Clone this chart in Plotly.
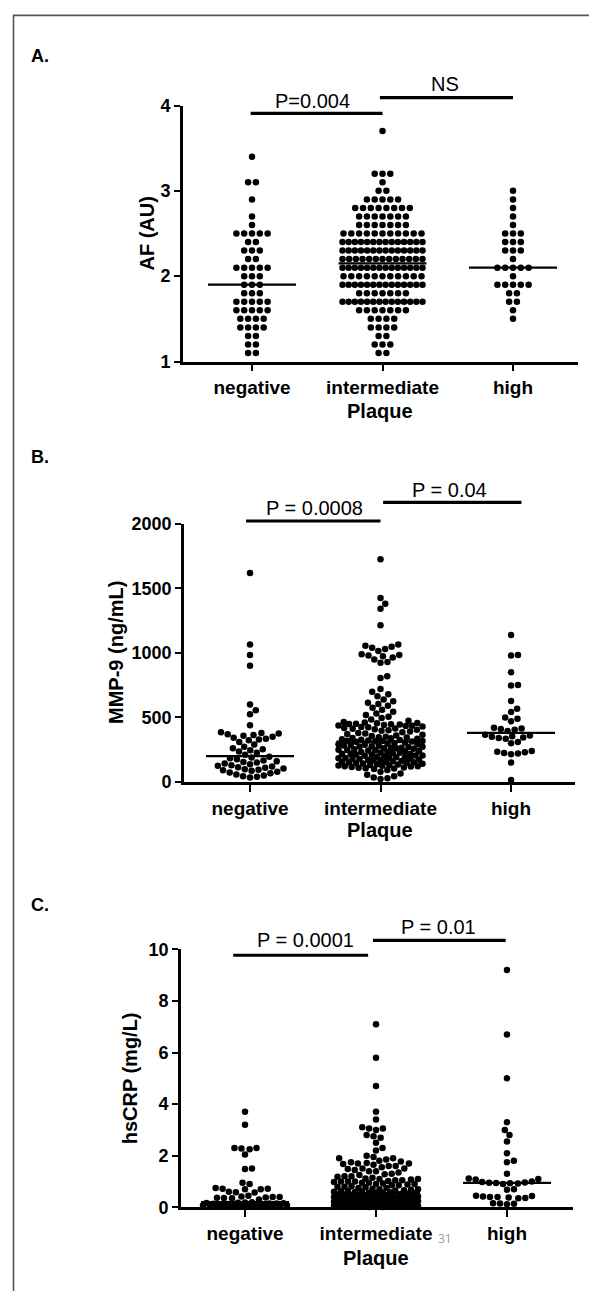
import math
import plotly.graph_objects as go

W, H = 589, 1301

categories = ["negative", "intermediate", "high"]

# ---------------- Panel A: AF (AU) — discrete levels and counts per level
af_neg_levels = [3.4, 3.1, 2.9, 2.7, 2.6, 2.5, 2.4, 2.3, 2.2, 2.1, 2.0, 1.9, 1.8, 1.7, 1.6, 1.5, 1.4, 1.3, 1.2, 1.1]
af_neg_counts = [1, 2, 1, 1, 1, 5, 2, 3, 2, 5, 3, 3, 3, 5, 5, 4, 4, 2, 2, 2]
af_int_levels = [3.7, 3.2, 3.1, 3.0, 2.9, 2.8, 2.7, 2.6, 2.5, 2.4, 2.3, 2.2, 2.1, 2.0, 1.9, 1.8, 1.7, 1.6, 1.5, 1.4, 1.3, 1.2, 1.1]
af_int_counts = [1, 3, 1, 2, 5, 8, 7, 7, 11, 14, 14, 13, 14, 11, 14, 7, 14, 7, 4, 4, 2, 3, 2]
af_high_levels = [3.0, 2.9, 2.8, 2.7, 2.6, 2.5, 2.4, 2.3, 2.2, 2.1, 2.0, 1.9, 1.8, 1.7, 1.6, 1.5]
af_high_counts = [1, 1, 1, 1, 1, 3, 3, 3, 1, 5, 1, 5, 2, 2, 1, 1]
af_medians = [1.9, 2.15, 2.1]
af_ticks = [1, 2, 3, 4]

# ---------------- Panel B: MMP-9 (ng/mL)
mmp_neg = [1620, 1066, 985, 900, 600, 555, 525, 440,
           385, 380, 376, 370, 364, 358, 350, 342, 335, 330, 324, 310, 290, 272, 262, 254, 246, 236, 226, 210,
           196, 190, 184, 176, 166, 160, 155, 150, 144, 138, 130, 126, 120, 114, 110, 104, 98, 94, 90, 86,
           80, 74, 68, 58, 50, 44, 40, 34]
mmp_int = [1727, 1427, 1381, 1342, 1214, 1065, 1055, 1048, 1040, 1030, 1015, 990, 985, 980, 975, 965, 950, 930,
           925, 820, 805, 720, 700, 680, 665, 640, 625, 615, 605, 590, 575, 560, 545, 530, 520, 505, 495, 485,
           475, 465,
           460, 458, 455, 452, 450, 447, 445, 441, 438, 436, 433, 430, 426, 424, 419, 415, 412, 409, 404, 400,
           396, 391, 386, 380, 376, 371, 366, 360, 356, 351, 347, 344, 340, 338, 335, 331, 328, 325, 322, 320,
           318, 317, 315, 314,
           311, 306, 301, 298, 293, 291, 286, 283, 281, 276, 273, 271, 266, 263, 261, 257, 253, 250, 248, 243,
           240, 238, 233, 229, 226, 223, 219, 216, 213, 211, 206, 203, 201, 196, 193, 191, 186, 183, 180, 178,
           173, 170, 168, 163, 160, 157, 154, 150, 148, 145, 141, 138, 135, 131, 128, 126, 122, 119, 116, 113,
           110, 107, 104, 101, 122, 131, 144, 152, 166, 177, 188, 205, 218, 232, 245, 262, 275, 288,
           92, 80, 66, 55, 44, 35, 28, 22]
mmp_high = [1140, 985, 980, 850, 752, 748, 628, 568, 542, 500, 490, 470, 420, 415, 410, 405, 395,
            365, 360, 355, 350, 345, 340, 335, 310, 300, 240, 235, 230, 225, 220, 215, 150, 15]
mmp_medians = [200, 313, 380]
mmp_ticks = [0, 500, 1000, 1500, 2000]

# ---------------- Panel C: hsCRP (mg/L)
crp_neg = [3.7, 3.2, 2.3, 2.28, 2.25, 2.3, 2.05, 1.5, 1.48, 0.95, 0.9, 0.75, 0.72, 0.7, 0.7, 0.72,
           0.58, 0.6, 0.57, 0.45, 0.42, 0.4, 0.38, 0.37, 0.36, 0.35, 0.4, 0.3,
           0.2, 0.19, 0.18, 0.17, 0.16, 0.15, 0.15, 0.14, 0.13, 0.12, 0.12, 0.11, 0.1, 0.1,
           0.09, 0.08, 0.08, 0.07, 0.06, 0.06, 0.05, 0.05, 0.04, 0.03, 0.03, 0.02, 0.02, 0.01]
crp_int = [7.1, 5.8, 4.7, 3.7, 3.4, 3.1, 3.05, 3.0, 3.05, 2.8, 2.75, 2.7, 2.5, 2.3, 2.2, 2.0, 1.95, 1.9, 1.9, 1.85,
           1.8, 1.78, 1.75, 1.72, 1.7, 1.7, 1.68, 1.65, 1.6, 1.6, 1.55, 1.5, 1.5, 1.48, 1.45, 1.4, 1.4, 1.35,
           1.3, 1.28, 1.25, 1.2, 1.2, 1.18, 1.15, 1.12, 1.1, 1.1, 1.08, 1.05, 1.05, 1.02, 1.0, 1.0, 1.0,
           0.98, 0.95, 0.95, 0.92, 0.9, 0.9, 0.88, 0.85, 0.85, 0.82, 0.8, 0.8, 0.78, 0.75, 0.75, 0.72, 0.7,
           0.7, 0.68, 0.66, 0.65, 0.63, 0.62, 0.6, 0.6, 0.59, 0.58, 0.57, 0.56,
           0.55, 0.54, 0.53, 0.52, 0.5, 0.5, 0.49, 0.48, 0.47, 0.46, 0.45, 0.45, 0.44, 0.43, 0.42, 0.41,
           0.4, 0.4, 0.39, 0.38, 0.37, 0.36, 0.35, 0.35, 0.34, 0.33, 0.32, 0.31, 0.3, 0.3, 0.29, 0.28,
           0.27, 0.26, 0.25, 0.25, 0.24, 0.23, 0.22, 0.21, 0.2, 0.2, 0.19, 0.18, 0.17, 0.16, 0.15, 0.15,
           0.14, 0.13, 0.12, 0.11, 0.1, 0.1, 0.09, 0.08, 0.08, 0.07, 0.06, 0.06, 0.05, 0.05, 0.04, 0.04,
           0.03, 0.03, 0.02, 0.02, 0.02, 0.01, 0.01, 0.01, 0.33, 0.27, 0.21, 0.14]
crp_high = [9.2, 6.7, 5.0, 3.3, 3.0, 2.8, 2.55, 2.1, 1.8, 1.75, 1.3, 1.12, 1.1, 1.08, 1.0, 0.98, 0.96,
            0.95, 0.94, 0.93, 0.92, 0.9, 0.7, 0.68, 0.45, 0.42, 0.4, 0.38, 0.36, 0.35, 0.4, 0.44,
            0.15, 0.14, 0.16, 0.12]
crp_medians = [0.2, 0.55, 0.95]
crp_ticks = [0, 2, 4, 6, 8, 10]


# ---------------- layout geometry (pixels in the 589x1301 page)
def pxx(px):
    return px / W


def pyy(px):
    return 1 - px / H


panels = [
    dict(xl=183, xr=578, cats=[252, 382, 513], yt=97, yb=357, yr=[1, 4], ticks=af_ticks),
    dict(xl=184, xr=575, cats=[250, 380, 511], yt=522, yb=784, yr=[0, 2000], ticks=mmp_ticks),
    dict(xl=181, xr=573, cats=[245, 376, 507], yt=954, yb=1216, yr=[0, 10], ticks=crp_ticks),
]
for p in panels:
    p["sp"] = (p["cats"][2] - p["cats"][0]) / 2.0
    p["xrange"] = [-(p["cats"][0] - p["xl"]) / p["sp"], (p["xr"] - p["cats"][0]) / p["sp"]]
    p["ppu"] = (p["yb"] - p["yt"]) / (p["yr"][1] - p["yr"][0])

DOT = 7.0     # min centre distance, px
MAXHALF = 42  # max half width of a column, px


def rows_layout(levels, counts, ppu):
    xs, ys = [], []
    for v, n in zip(levels, counts):
        s = 7.8 if n < 2 else min(7.8, 2 * 40.0 / (n - 1))
        for k in range(n):
            xs.append((k - (n - 1) / 2.0) * s)
            ys.append(v)
    return xs, ys


def swarm(values, ppu):
    order = sorted(range(len(values)), key=lambda i: values[i])
    placed = []
    xs = [0.0] * len(values)
    for i in order:
        y = values[i] * ppu
        near = [(xj, yj) for (xj, yj) in placed if abs(yj - y) < DOT]
        cands = [0.0]
        for xj, yj in near:
            dx = math.sqrt(max(DOT * DOT - (y - yj) ** 2, 0.0))
            cands += [xj + dx, xj - dx]
        cands.sort(key=abs)
        chosen = None
        for c in cands:
            if abs(c) > MAXHALF:
                continue
            if all((c - xj) ** 2 + (y - yj) ** 2 >= DOT * DOT - 1e-6 for xj, yj in near):
                chosen = c
                break
        if chosen is None:
            best, bestd = 0.0, -1
            for k in range(-24, 25):
                c = MAXHALF * k / 24.0
                d = min(((c - xj) ** 2 + (y - yj) ** 2) for xj, yj in near) if near else 1e9
                if d > bestd:
                    best, bestd = c, d
            chosen = best
        placed.append((chosen, y))
        xs[i] = chosen
    return xs


fig = go.Figure()

groups = [
    [("rows", af_neg_levels, af_neg_counts), ("rows", af_int_levels, af_int_counts),
     ("rows", af_high_levels, af_high_counts)],
    [("swarm", mmp_neg), ("swarm", mmp_int), ("swarm", mmp_high)],
    [("swarm", crp_neg), ("swarm", crp_int), ("swarm", crp_high)],
]
medians = [af_medians, mmp_medians, crp_medians]

for pi, (p, grp) in enumerate(zip(panels, groups)):
    xa = "x" if pi == 0 else "x%d" % (pi + 1)
    ya = "y" if pi == 0 else "y%d" % (pi + 1)
    for ci, g in enumerate(grp):
        if g[0] == "rows":
            offs, vals = rows_layout(g[1], g[2], p["ppu"])
        else:
            vals = g[1]
            offs = swarm(vals, p["ppu"])
        fig.add_trace(go.Scatter(
            x=[ci + o / p["sp"] for o in offs], y=vals, mode="markers",
            marker=dict(symbol="circle", size=6.5, color="black", line=dict(width=0)),
            xaxis=xa, yaxis=ya, cliponaxis=False, showlegend=False, hoverinfo="y"))
    for ci, m in enumerate(medians[pi]):
        half = 44.0 / p["sp"]
        fig.add_trace(go.Scatter(
            x=[ci - half, ci + half], y=[m, m], mode="lines",
            line=dict(color="black", width=2.2), xaxis=xa, yaxis=ya,
            cliponaxis=False, showlegend=False, hoverinfo="skip"))

tickfont = dict(family="Liberation Sans", size=19, color="black", weight="bold")
ytickfont = dict(family="Liberation Sans", size=18, color="black", weight="bold")
layout = dict(width=W, height=H, margin=dict(l=0, r=0, t=0, b=0),
              paper_bgcolor="white", plot_bgcolor="white", showlegend=False)
for pi, p in enumerate(panels):
    sx = "" if pi == 0 else str(pi + 1)
    layout["xaxis" + sx] = dict(
        domain=[pxx(p["xl"]), pxx(p["xr"])], range=p["xrange"], anchor="y" + sx,
        tickmode="array", tickvals=[0, 1, 2], ticktext=categories,
        showline=True, linecolor="black", linewidth=2.6, ticks="outside", ticklen=7,
        tickwidth=2.2, tickcolor="black", showgrid=False, zeroline=False, tickfont=tickfont)
    layout["yaxis" + sx] = dict(
        domain=[pyy(p["yb"]), pyy(p["yt"])], range=p["yr"], anchor="x" + sx,
        tickmode="array", tickvals=p["ticks"],
        showline=True, linecolor="black", linewidth=2.6, ticks="outside", ticklen=6,
        tickwidth=2.2, tickcolor="black", showgrid=False, zeroline=False, tickfont=ytickfont)
fig.update_layout(**layout)

ann = []
shapes = []
for txt, y in [("A.", 47), ("B.", 454), ("C.", 909)]:
    ann.append(dict(text=txt, x=pxx(29), y=pyy(y), xref="paper", yref="paper", xanchor="left",
                    yanchor="middle", showarrow=False,
                    font=dict(family="Liberation Sans", size=18, color="black", weight="bold")))
titles = [("AF (AU)", 147, 227), ("MMP-9 (ng/mL)", 116, 653), ("hsCRP (mg/L)", 130, 1085)]
for txt, x, y in titles:
    ann.append(dict(text=txt, x=pxx(x), y=pyy(y), xref="paper", yref="paper", textangle=-90,
                    xanchor="center", yanchor="middle", showarrow=False,
                    font=dict(family="Liberation Sans", size=20, color="black", weight="bold")))
for x, y in [(380, 407), (380, 833), (376, 1267)]:
    ann.append(dict(text="Plaque", x=pxx(x), y=pyy(y), xref="paper", yref="paper",
                    xanchor="center", yanchor="middle", showarrow=False,
                    font=dict(family="Liberation Sans", size=20, color="black", weight="bold")))

sig = [
    (0, "P=0.004", -0.01, 1.0, 105, 312, 92),
    (0, "NS", 0.98, 2.0, 89, 445, 75),
    (1, "P = 0.0008", -0.03, 1.0, 519, 314, 506),
    (1, "P = 0.04", 1.02, 2.08, 500, 449, 487),
    (2, "P = 0.0001", -0.09, 0.94, 960, 305, 945),
    (2, "P = 0.01", 0.977, 1.99, 945, 438, 931),
]
for pi, txt, x0, x1, by, tx, ty in sig:
    xa = "x" if pi == 0 else "x%d" % (pi + 1)
    shapes.append(dict(type="line", xref=xa, yref="paper", x0=x0, x1=x1, y0=pyy(by), y1=pyy(by),
                       line=dict(color="black", width=3.2)))
    ann.append(dict(text=txt, x=pxx(tx), y=pyy(ty), xref="paper", yref="paper",
                    xanchor="center", yanchor="middle", showarrow=False,
                    font=dict(family="Liberation Sans", size=20, color="black")))

ann.append(dict(text="31", x=pxx(445), y=pyy(1248), xref="paper", yref="paper",
                xanchor="center", yanchor="middle", showarrow=False,
                font=dict(family="Open Sans", size=12, color="#9a9a9a")))

shapes.append(dict(type="line", xref="paper", yref="paper", x0=pxx(13), x1=1, y0=pyy(5.5), y1=pyy(5.5),
                   line=dict(color="#555555", width=1.6)))
shapes.append(dict(type="line", xref="paper", yref="paper", x0=pxx(13.5), x1=pxx(13.5), y0=pyy(5), y1=0,
                   line=dict(color="#555555", width=1.6)))

fig.update_layout(annotations=ann, shapes=shapes)
fig.write_html("out.html", config={"displayModeBar": False},
               post_script="document.body.style.margin='0';document.body.style.overflow='hidden';")
